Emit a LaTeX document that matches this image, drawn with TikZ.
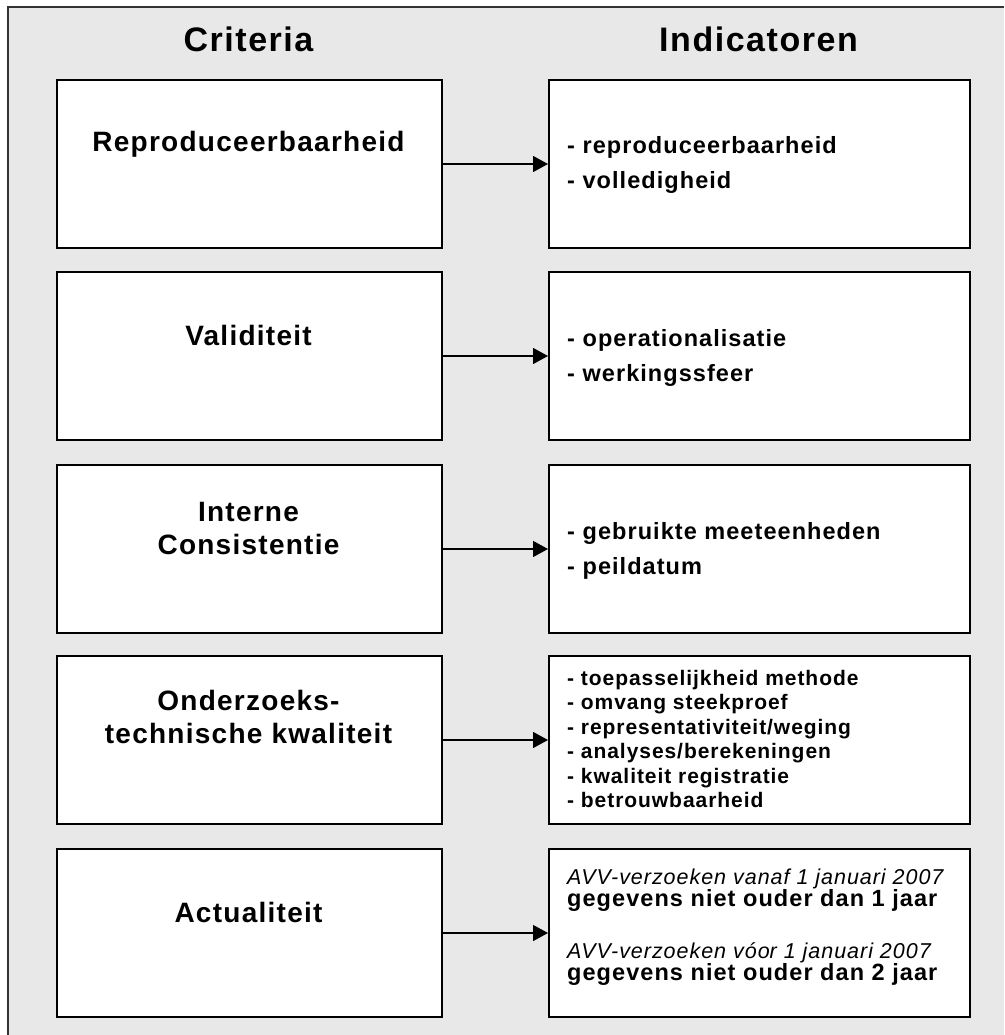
\documentclass[tikz,border=0pt]{standalone}
\usepackage{fontspec}
\setmainfont{Liberation Sans}
\newfontfamily\lsfont[LetterSpace=4.5]{Liberation Sans}
\usetikzlibrary{arrows.meta}
\definecolor{bggray}{HTML}{E8E8E8}
\definecolor{framecol}{HTML}{333333}
\newcommand\linestack[2]{\vtop{\baselineskip=#1\lineskiplimit=-100pt\lineskip=0pt #2}}
\begin{document}
\begin{tikzpicture}[x=1pt,y=-1pt,
  crit/.style={draw, line width=2pt, fill=white, minimum width=385pt, minimum height=168pt, inner sep=0pt, anchor=north west},
  indic/.style={crit, minimum width=421pt},
  head/.style={font=\lsfont\bfseries\fontsize{34}{40}\selectfont, anchor=base, inner sep=0pt},
  clabel/.style={font=\lsfont\bfseries\fontsize{28}{33}\selectfont, align=center, inner sep=0pt},
  ilabel/.style={font=\lsfont\bfseries\fontsize{23.5}{35}\selectfont, anchor=base west, inner sep=0pt},
  slabel/.style={font=\lsfont\bfseries\fontsize{21}{24.5}\selectfont, anchor=base west, inner sep=0pt},
  arr/.style={line width=1.3pt, -{Triangle[length=15pt,width=16pt]}}]
\useasboundingbox (0,0) rectangle (1004,1035);
\fill[bggray] (8,7) rectangle (1004,1035);
\draw[framecol, line width=1.5pt] (8,1035) -- (8,7) -- (1004,7);

\node[head] (hc) at (248.5,52) {Criteria};
\node[head] (hi) at (758.5,52) {Indicatoren};

\node[crit] (c1) at (56,79) {};
\node[crit] (c2) at (56,271) {};
\node[crit] (c3) at (56,464) {};
\node[crit] (c4) at (56,655) {};
\node[crit] (c5) at (56,848) {};

\node[indic] (i1) at (548,79) {};
\node[indic] (i2) at (548,271) {};
\node[indic] (i3) at (548,464) {};
\node[indic] (i4) at (548,655) {};
\node[indic] (i5) at (548,848) {};

\node[clabel, anchor=base] (l1) at (248.5,152) {Reproduceerbaarheid};
\node[clabel, anchor=base] (l2) at (248.5,345) {Validiteit};
\node[clabel] (l3) at (248.5,528) {Interne\\Consistentie};
\node[clabel] (l4) at (248.5,717) {Onderzoeks-\\technische kwaliteit};
\node[clabel, anchor=base] (l5) at (248.5,922) {Actualiteit};

\node[ilabel] (t1) at (567,154) {\linestack{35pt}{\hbox{- reproduceerbaarheid}\hbox{- volledigheid}}};
\node[ilabel] (t2) at (567,346) {\linestack{35pt}{\hbox{- operationalisatie}\hbox{- werkingssfeer}}};
\node[ilabel] (t3) at (567,539) {\linestack{35pt}{\hbox{- gebruikte meeteenheden}\hbox{- peildatum}}};
\node[slabel] (t4) at (567,685) {\linestack{24.5pt}{\hbox{- toepasselijkheid methode}\hbox{- omvang steekproef}\hbox{- representativiteit/weging}\hbox{- analyses/berekeningen}\hbox{- kwaliteit registratie}\hbox{- betrouwbaarheid}}};
\node[ilabel, font=\lsfont] (t5) at (567,884) {\linestack{22pt}{%
  \hbox{\mdseries\itshape\fontsize{21.5}{22}\selectfont AVV-verzoeken vanaf 1 januari 2007}%
  \hbox{\bfseries\fontsize{23.5}{22}\selectfont gegevens niet ouder dan 1 jaar}%
  \vskip 30pt
  \hbox{\mdseries\itshape\fontsize{21.5}{22}\selectfont AVV-verzoeken v\'oo\kern0pt r 1 januari 2007}%
  \hbox{\bfseries\fontsize{23.5}{22}\selectfont gegevens niet ouder dan 2 jaar}}};

\draw[arr] (c1.east) -- (i1.west);
\draw[arr] (c2.east) -- (i2.west);
\draw[arr] (c3.east) -- (i3.west);
\draw[arr] (c4.east) -- (i4.west);
\draw[arr] (c5.east) -- (i5.west);
\end{tikzpicture}
\end{document}
